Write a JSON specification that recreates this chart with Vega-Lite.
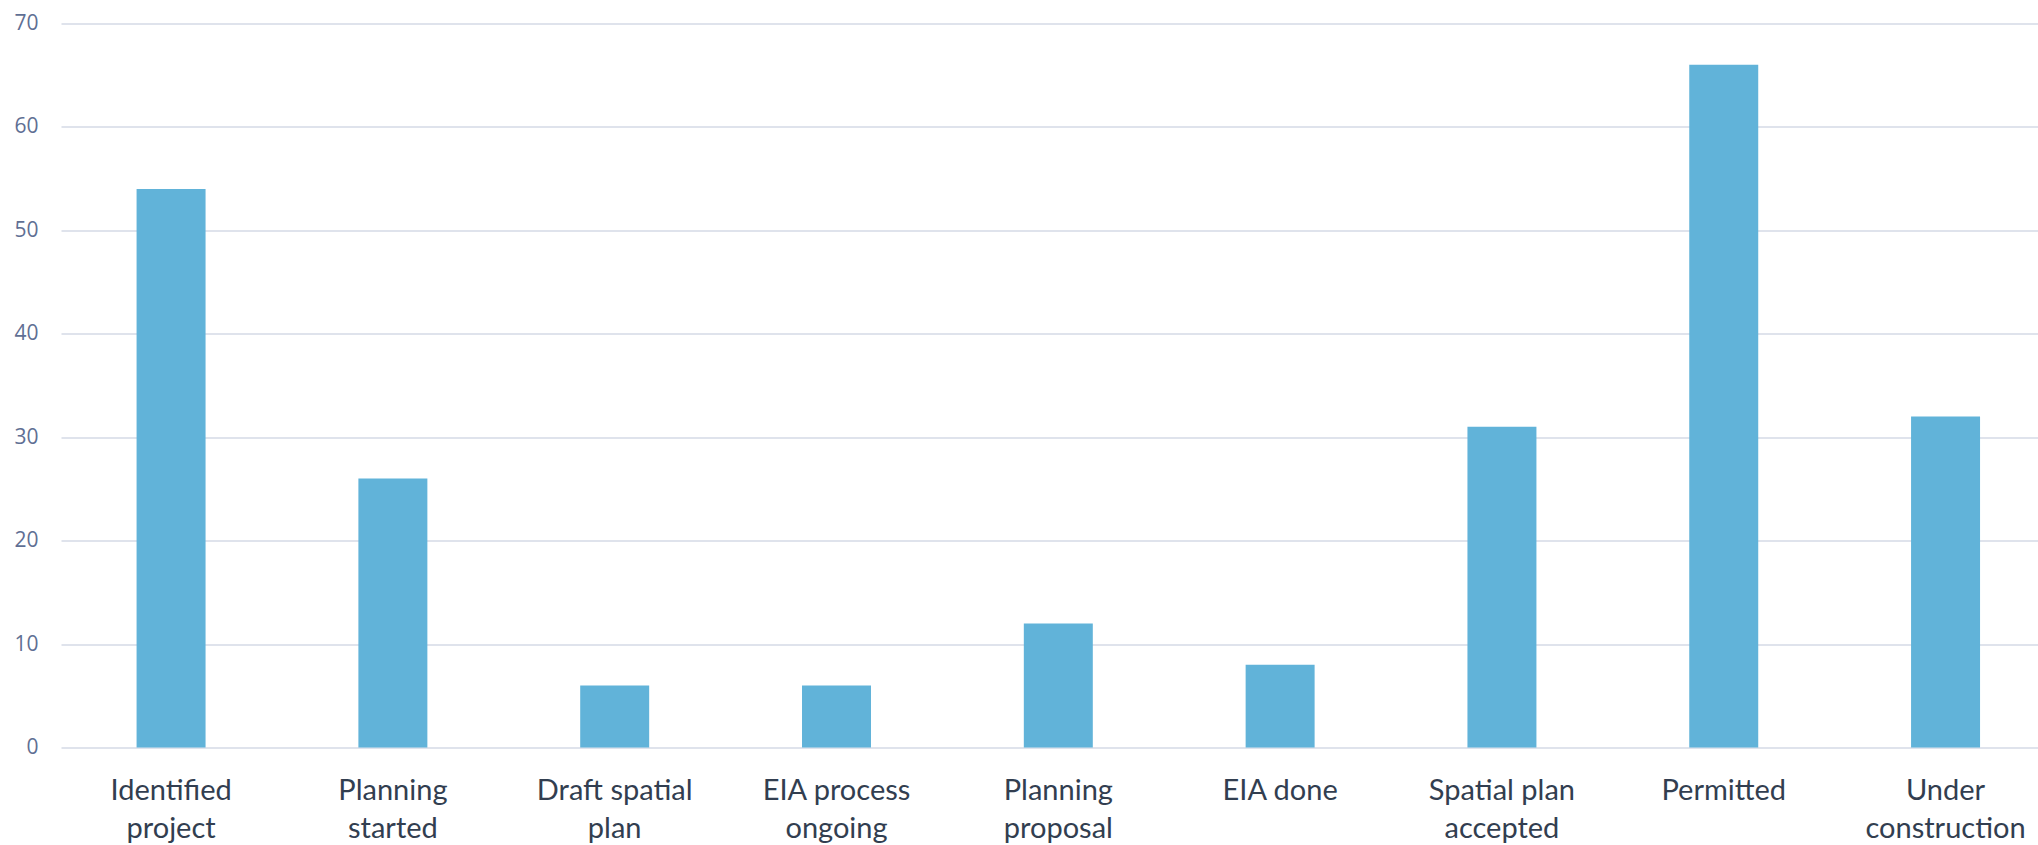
{
  "$schema": "https://vega.github.io/schema/vega-lite/v6.json",
  "autosize": "none",
  "width": 1977,
  "height": 724,
  "padding": {"left": 61, "top": 23.5, "right": 0, "bottom": 98},
  "background": "white",
  "data": {
    "values": [
      {"stage": "Identified project", "count": 54},
      {"stage": "Planning started", "count": 26},
      {"stage": "Draft spatial plan", "count": 6},
      {"stage": "EIA process ongoing", "count": 6},
      {"stage": "Planning proposal", "count": 12},
      {"stage": "EIA done", "count": 8},
      {"stage": "Spatial plan accepted", "count": 31},
      {"stage": "Permitted", "count": 66},
      {"stage": "Under construction", "count": 32}
    ]
  },
  "config": {"view": {"stroke": null}},
  "mark": {"type": "bar", "color": "#61B3D9"},
  "encoding": {
    "x": {
      "field": "stage",
      "type": "nominal",
      "sort": null,
      "scale": {"paddingInner": 0.689, "paddingOuter": 0.301, "align": 0.566},
      "axis": {
        "title": null,
        "domain": false,
        "ticks": false,
        "tickSize": 0,
        "labelAngle": 0,
        "labelFont": "Lato",
        "labelFontSize": 29,
        "labelColor": "#323E50",
        "labelPadding": 29,
        "labelLineHeight": 38,
        "labelBaseline": "top",
        "labelExpr": "datum.label == 'Identified project' ? ['Identified', 'project'] : datum.label == 'Planning started' ? ['Planning', 'started'] : datum.label == 'Draft spatial plan' ? ['Draft spatial', 'plan'] : datum.label == 'EIA process ongoing' ? ['EIA process', 'ongoing'] : datum.label == 'Planning proposal' ? ['Planning', 'proposal'] : datum.label == 'Spatial plan accepted' ? ['Spatial plan', 'accepted'] : datum.label == 'Under construction' ? ['Under', 'construction'] : datum.label",
        "labelLimit": 300
      }
    },
    "y": {
      "field": "count",
      "type": "quantitative",
      "scale": {"domain": [0, 70], "nice": false},
      "axis": {
        "title": null,
        "domain": false,
        "ticks": false,
        "tickSize": 0,
        "values": [0, 10, 20, 30, 40, 50, 60, 70],
        "labelFont": "Open Sans",
        "labelFontSize": 21,
        "labelColor": "#5F6F94",
        "labelPadding": 23,
        "gridColor": "#DFE3EC",
        "gridWidth": 2
      }
    }
  }
}
